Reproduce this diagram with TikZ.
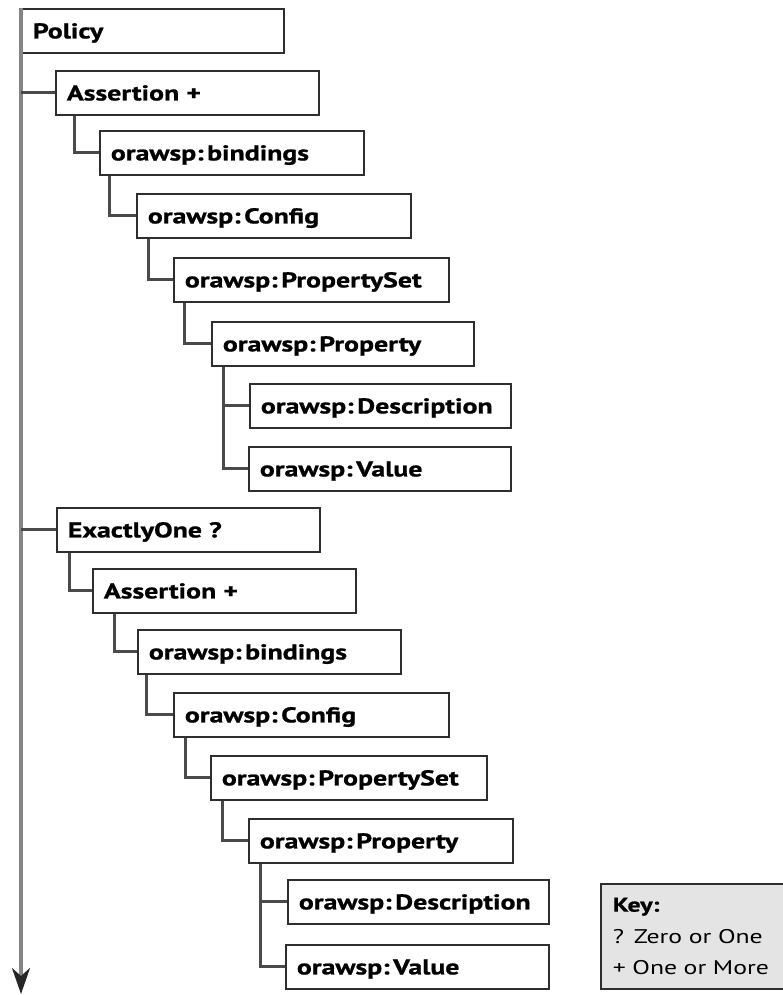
\documentclass[tikz,border=0pt]{standalone}
\usepackage{fontspec}
\setmainfont{PT Sans}[FakeStretch=1.3, BoldFeatures={FakeBold=1}]
\usetikzlibrary{arrows.meta}
\definecolor{boxline}{HTML}{2E2E2E}
\definecolor{connline}{HTML}{4A4A4A}
\definecolor{mainline}{HTML}{858585}
\definecolor{keyfill}{HTML}{E4E4E4}
\newcommand\ow{orawsp:\kern3.5pt}
\tikzset{
  bx/.style={draw=boxline, line width=1.8pt, minimum height=44pt, inner xsep=11pt, inner ysep=0pt,
    text height=15pt, text depth=0pt,
    anchor=north west, align=left, font=\fontsize{21.4}{24}\selectfont\bfseries, text width=#1},
  conn/.style={draw=connline, line width=3pt},
  trunk/.style={draw=mainline, line width=3.3pt}
}
\begin{document}
\begin{tikzpicture}[x=1pt,y=-1pt]
\useasboundingbox (0,0) rectangle (783,995);
% first group
\node[bx=240pt] (policy) at (21,8) {Policy};
\node[bx=241pt] (a1) at (55,70) {Assertion +};
\node[bx=242pt] (b1) at (99,130) {\ow bindings};
\node[bx=252pt] (c1) at (136,193) {\ow Config};
\node[bx=253pt] (ps1) at (173,257) {\ow PropertySet};
\node[bx=240pt] (p1) at (211,321) {\ow Property};
\node[bx=239pt] (d1) at (249,383) {\ow Description};
\node[bx=240pt] (v1) at (248,446) {\ow Value};
% second group
\node[bx=241pt] (e) at (56,507) {ExactlyOne ?};
\node[bx=241pt] (a2) at (92,568) {Assertion +};
\node[bx=241pt] (b2) at (137,629) {\ow bindings};
\node[bx=253pt] (c2) at (173,692) {\ow Config};
\node[bx=254pt] (ps2) at (210,755) {\ow PropertySet};
\node[bx=242pt] (p2) at (248,818) {\ow Property};
\node[bx=239pt] (d2) at (287,879) {\ow Description};
\node[bx=241pt] (v2) at (285,944) {\ow Value};
% key
\node[draw=boxline, line width=1.6pt, fill=keyfill, anchor=north west, minimum width=200pt,
  minimum height=105pt, inner xsep=12pt, inner ysep=0pt, text width=176pt, align=left,
  font=\fontsize{19.8}{31.5}\selectfont] (key) at (600,883)
  {{\bfseries Key:}\\? Zero or One\\+ One or More};
% trunk
\coordinate (tend) at (21,994);
\draw[trunk, -{Stealth[length=26pt,width=18pt,inset=8pt,color=black!85]}] (policy.north west) -- (tend);
\draw[conn] (policy.west |- a1.west) -- (a1.west);
\draw[conn] (policy.west |- e.west) -- (e.west);
% connectors group 1
\draw[conn] ([xshift=19pt]a1.south west) |- (b1.west);
\draw[conn] ([xshift=10pt]b1.south west) |- (c1.west);
\draw[conn] ([xshift=12pt]c1.south west) |- (ps1.west);
\draw[conn] ([xshift=11pt]ps1.south west) |- (p1.west);
\draw[conn] ([xshift=12pt]p1.south west) |- (d1.west);
\draw[conn] ([xshift=12pt]p1.south west) |- (v1.west);
% connectors group 2
\draw[conn] ([xshift=13pt]e.south west) |- (a2.west);
\draw[conn] ([xshift=22pt]a2.south west) |- (b2.west);
\draw[conn] ([xshift=9pt]b2.south west) |- (c2.west);
\draw[conn] ([xshift=12pt]c2.south west) |- (ps2.west);
\draw[conn] ([xshift=12pt]ps2.south west) |- (p2.west);
\draw[conn] ([xshift=12pt]p2.south west) |- (d2.west);
\draw[conn] ([xshift=12pt]p2.south west) |- (v2.west);
\end{tikzpicture}
\end{document}
